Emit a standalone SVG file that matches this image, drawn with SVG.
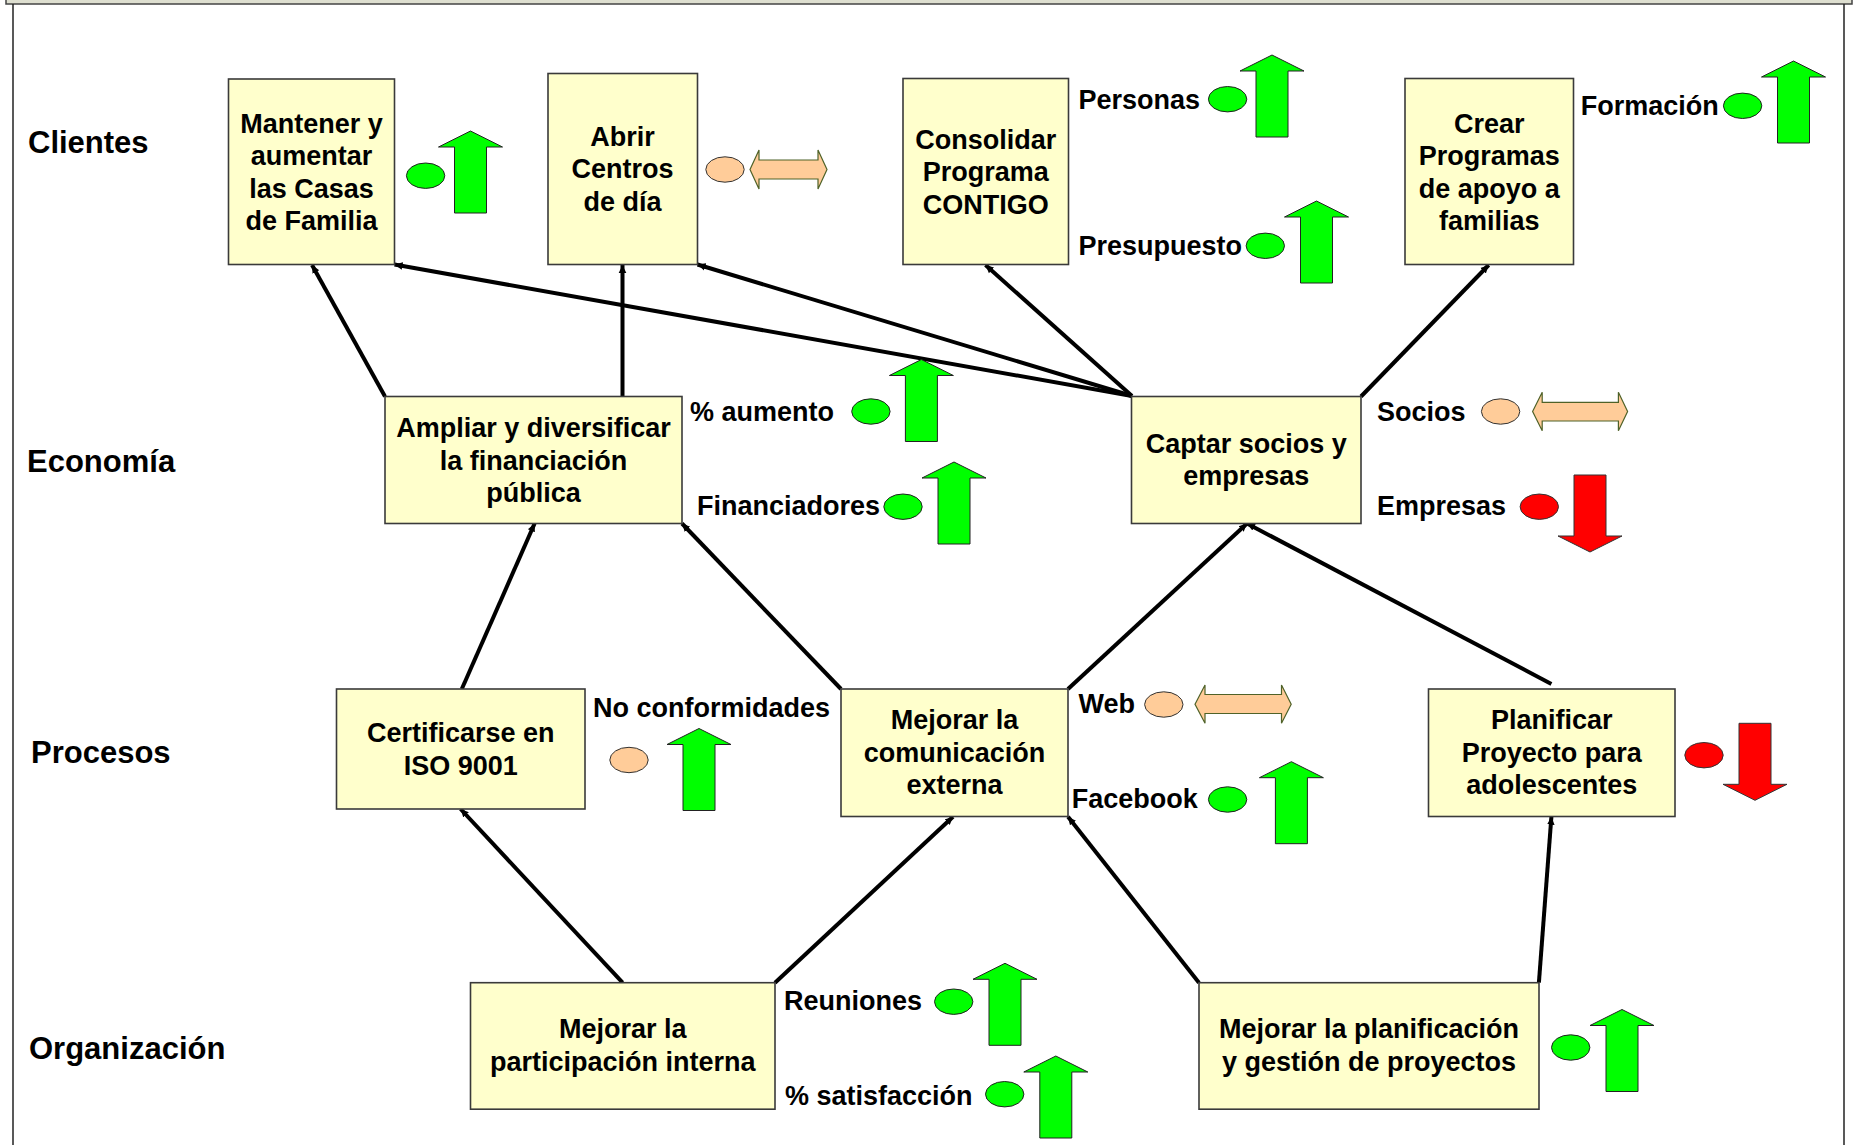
<svg xmlns="http://www.w3.org/2000/svg" xmlns:xlink="http://www.w3.org/1999/xlink" width="1856" height="1145" viewBox="0 0 1856 1145">
<style>
.box{fill:#FFFFCC;stroke:#3a3a3a;stroke-width:1.6}
.t{font-family:"Liberation Sans",Arial,sans-serif;font-weight:bold;font-size:27px;fill:#000}
.m{text-anchor:middle}
.lbl{font-size:31px}
.g{fill:#00FF00;stroke:#222;stroke-width:1}
.p{fill:#FFCC99;stroke:#333;stroke-width:1}
.pa{fill:#FFCC99;stroke:#4F6228;stroke-width:1.2}
.r{fill:#FF0000;stroke:#333;stroke-width:1}
.c{stroke:#000;stroke-width:4;fill:none;marker-end:url(#ah)}
.frame{stroke:#222;stroke-width:1.5;fill:none}
</style>
<defs>
<marker id="ah" markerUnits="userSpaceOnUse" markerWidth="10" markerHeight="10" refX="8" refY="5" orient="auto">
<path d="M0,1.2 L8,5 L0,8.8 Z" fill="#000"/>
</marker>
<path id="up" d="M0,0 L32,16 L16,16 L16,82 L-16,82 L-16,16 L-32,16 Z"/>
<path id="down" d="M-16,0 L16,0 L16,61 L32,61 L0,77 L-32,61 L-16,61 Z"/>
</defs>
<rect width="1856" height="1145" fill="#fff"/>
<g id="frame">
<rect x="6" y="-3" width="1846" height="7" fill="#DEDFD0" stroke="#444" stroke-width="1.5"/>
<line class="frame" x1="13" y1="4" x2="13" y2="1145"/>
<line class="frame" x1="1844" y1="4" x2="1844" y2="1145"/>
</g>
<g id="perspectives">
<text class="t lbl" x="28" y="152.5">Clientes</text>
<text class="t lbl" x="27" y="472">Economía</text>
<text class="t lbl" x="31" y="763">Procesos</text>
<text class="t lbl" x="29" y="1058.5">Organización</text>
</g>
<g id="connectors">
<line class="c" x1="385" y1="396.5" x2="312" y2="265"/>
<line class="c" x1="622.5" y1="396.5" x2="622.5" y2="265"/>
<line class="c" x1="1132" y1="396" x2="394.5" y2="264.5"/>
<line class="c" x1="1132" y1="396" x2="697.5" y2="264.5"/>
<line class="c" x1="1132" y1="396" x2="985.5" y2="265"/>
<line class="c" x1="1361" y1="396.5" x2="1488.7" y2="265"/>
<line class="c" x1="461.8" y1="689" x2="534.6" y2="523.5"/>
<line class="c" x1="841" y1="689" x2="682" y2="523.5"/>
<line class="c" x1="1068" y1="689" x2="1247" y2="523.5"/>
<line class="c" x1="1551.4" y1="684" x2="1247" y2="523.5"/>
<line class="c" x1="622.6" y1="982.7" x2="460.6" y2="809"/>
<line class="c" x1="775" y1="982.7" x2="953" y2="816.7"/>
<line class="c" x1="1199" y1="982.7" x2="1068" y2="816.7"/>
<line class="c" x1="1538.9" y1="982.7" x2="1551.4" y2="816.7"/>
</g>
<g id="n-mantener">
<rect class="box" x="228.5" y="79" width="166" height="185.5"/>
<text class="t m" x="311.5" y="132.7">Mantener y</text>
<text class="t m" x="311.5" y="165.2">aumentar</text>
<text class="t m" x="311.5" y="197.7">las Casas</text>
<text class="t m" x="311.5" y="230.2">de Familia</text>
<ellipse class="g" cx="425.6" cy="175.7" rx="19.2" ry="12.7"/>
<use xlink:href="#up" class="g" x="470.5" y="131"/>
</g>
<g id="n-abrir">
<rect class="box" x="548" y="73.5" width="149.5" height="191"/>
<text class="t m" x="622.5" y="145.7">Abrir</text>
<text class="t m" x="622.5" y="178.2">Centros</text>
<text class="t m" x="622.5" y="210.7">de día</text>
<ellipse class="p" cx="725" cy="169.5" rx="19.2" ry="12.7"/>
<path class="pa" d="M750,169.5 L759,150 L759,160 L818,160 L818,150 L827,169.5 L818,189 L818,179 L759,179 L759,189 Z"/>
</g>
<g id="n-consolidar">
<rect class="box" x="903" y="78.5" width="165.5" height="186"/>
<text class="t m" x="985.7" y="148.7">Consolidar</text>
<text class="t m" x="985.7" y="181.2">Programa</text>
<text class="t m" x="985.7" y="213.7">CONTIGO</text>
<text class="t" x="1078.4" y="108.5">Personas</text>
<ellipse class="g" cx="1227.6" cy="99.2" rx="19.2" ry="12.7"/>
<use xlink:href="#up" class="g" x="1272" y="55"/>
<text class="t" x="1078.4" y="254.5">Presupuesto</text>
<ellipse class="g" cx="1265.3" cy="245.8" rx="19.2" ry="12.7"/>
<use xlink:href="#up" class="g" x="1316.5" y="201"/>
</g>
<g id="n-crear">
<rect class="box" x="1405" y="78.5" width="168.5" height="186"/>
<text class="t m" x="1489.2" y="132.7">Crear</text>
<text class="t m" x="1489.2" y="165.2">Programas</text>
<text class="t m" x="1489.2" y="197.7">de apoyo a</text>
<text class="t m" x="1489.2" y="230.2">familias</text>
<text class="t" x="1580.7" y="115">Formación</text>
<ellipse class="g" cx="1742.6" cy="105.8" rx="19.2" ry="12.7"/>
<use xlink:href="#up" class="g" x="1793.5" y="61"/>
</g>
<g id="n-ampliar">
<rect class="box" x="385" y="396.5" width="297" height="127"/>
<text class="t m" x="533.5" y="437">Ampliar y diversificar</text>
<text class="t m" x="533.5" y="469.5">la financiación</text>
<text class="t m" x="533.5" y="502">pública</text>
<text class="t" x="690" y="420.5">% aumento</text>
<ellipse class="g" cx="870.9" cy="411.5" rx="19.2" ry="12.7"/>
<use xlink:href="#up" class="g" x="921.4" y="359.5"/>
<text class="t" x="697" y="515">Financiadores</text>
<ellipse class="g" cx="903" cy="506.7" rx="19.2" ry="12.7"/>
<use xlink:href="#up" class="g" x="954" y="462"/>
</g>
<g id="n-captar">
<rect class="box" x="1131.5" y="396.5" width="229.5" height="127"/>
<text class="t m" x="1246.2" y="452.7">Captar socios y</text>
<text class="t m" x="1246.2" y="485.2">empresas</text>
<text class="t" x="1377" y="420.5">Socios</text>
<ellipse class="p" cx="1500.6" cy="411.5" rx="19.2" ry="12.7"/>
<path class="pa" d="M1532.6,411.5 L1542.2,392.3 L1542.2,402.3 L1618.4,402.3 L1618.4,392.3 L1627.6,411.5 L1618.4,430.7 L1618.4,421 L1542.2,421 L1542.2,430.7 Z"/>
<text class="t" x="1377" y="515">Empresas</text>
<ellipse class="r" cx="1539.3" cy="506.7" rx="19.2" ry="12.7"/>
<use xlink:href="#down" class="r" x="1590" y="475"/>
</g>
<g id="n-certificarse">
<rect class="box" x="336.5" y="689" width="248.5" height="120"/>
<text class="t m" x="460.7" y="742">Certificarse en</text>
<text class="t m" x="460.7" y="774.5">ISO 9001</text>
<text class="t" x="593" y="717">No conformidades</text>
<ellipse class="p" cx="629" cy="760" rx="19.2" ry="12.7"/>
<use xlink:href="#up" class="g" x="699" y="728.5"/>
</g>
<g id="n-comunicacion">
<rect class="box" x="841" y="689" width="227" height="127.5"/>
<text class="t m" x="954.5" y="729">Mejorar la</text>
<text class="t m" x="954.5" y="761.5">comunicación</text>
<text class="t m" x="954.5" y="794">externa</text>
<text class="t" x="1078.4" y="712.5">Web</text>
<ellipse class="p" cx="1163.8" cy="704.5" rx="19.2" ry="12.7"/>
<path class="pa" d="M1195,704.2 L1205,685 L1205,694.5 L1281.5,694.5 L1281.5,685 L1291.2,704.2 L1281.5,723.3 L1281.5,713.5 L1205,713.5 L1205,723.3 Z"/>
<text class="t" x="1071.7" y="807.5">Facebook</text>
<ellipse class="g" cx="1227.6" cy="799.5" rx="19.2" ry="12.7"/>
<use xlink:href="#up" class="g" x="1291.4" y="761.7"/>
</g>
<g id="n-planificar">
<rect class="box" x="1428.5" y="689" width="246.5" height="127.5"/>
<text class="t m" x="1551.7" y="729">Planificar</text>
<text class="t m" x="1551.7" y="761.5">Proyecto para</text>
<text class="t m" x="1551.7" y="794">adolescentes</text>
<ellipse class="r" cx="1704" cy="755.2" rx="19.2" ry="12.7"/>
<use xlink:href="#down" class="r" x="1755" y="723.3"/>
</g>
<g id="n-participacion">
<rect class="box" x="470.5" y="982.7" width="304.5" height="126.5"/>
<text class="t m" x="622.7" y="1038">Mejorar la</text>
<text class="t m" x="622.7" y="1070.5">participación interna</text>
<text class="t" x="784" y="1010">Reuniones</text>
<ellipse class="g" cx="953.7" cy="1001.7" rx="19.2" ry="12.7"/>
<use xlink:href="#up" class="g" x="1005" y="963.3"/>
<text class="t" x="785" y="1105">% satisfacción</text>
<ellipse class="g" cx="1004.7" cy="1094.2" rx="19.2" ry="12.7"/>
<use xlink:href="#up" class="g" x="1055.8" y="1056"/>
</g>
<g id="n-planificacion">
<rect class="box" x="1199" y="982.7" width="340" height="126.5"/>
<text class="t m" x="1369" y="1038">Mejorar la planificación</text>
<text class="t m" x="1369" y="1070.5">y gestión de proyectos</text>
<ellipse class="g" cx="1570.7" cy="1047.5" rx="19.2" ry="12.7"/>
<use xlink:href="#up" class="g" x="1622" y="1009.5"/>
</g>
</svg>
